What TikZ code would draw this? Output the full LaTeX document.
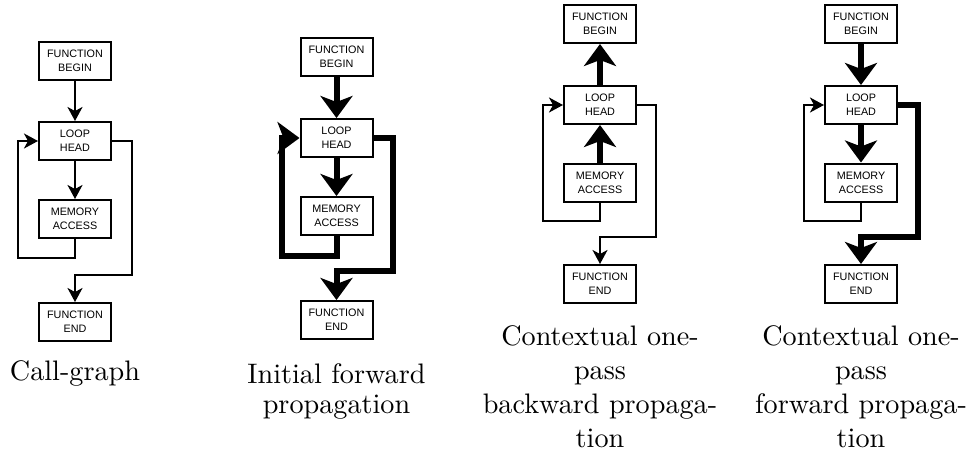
\documentclass[tikz,border=0pt]{standalone}
\usepackage{fontspec}
\newfontfamily\boxfont{Liberation Sans}
\newfontfamily\capfont[Extension=.otf]{lmroman10-regular}
\usetikzlibrary{arrows.meta}
\begin{document}
\begin{tikzpicture}[x=1pt,y=-1pt,
  box/.style={draw, line width=2pt, minimum width=72pt, minimum height=38pt,
    inner sep=0pt, align=center, font=\boxfont\fontsize{10.8}{14}\selectfont},
  thinarrow/.style={line width=2pt, -{Stealth[length=14pt,width=15pt,inset=4pt]}},
  thickarrow/.style={line width=6pt, -{Stealth[length=22pt,width=32pt,inset=6pt]}},
  captext/.style={align=center, anchor=base, inner sep=0pt, font=\capfont\fontsize{28.2}{33.7}\selectfont}]
\useasboundingbox[fill=white] (0,0) rectangle (972,458);

% ---------- Diagram 1: Call-graph ----------
\node[box] (b1) at (75,60.5) {FUNCTION\\BEGIN};
\node[box] (l1) at (75,141) {LOOP\\HEAD};
\node[box] (m1) at (75,219) {MEMORY\\ACCESS};
\node[box] (e1) at (75,322) {FUNCTION\\END};
\coordinate (lb1) at (18.3,258.3);
\coordinate (ex1) at (131.7,275);
\draw[thinarrow] (b1) -- (l1);
\draw[thinarrow] (l1) -- (m1);
\draw[thinarrow] (m1.south) |- (lb1) |- (l1.west);
\draw[thinarrow] (l1.east) -| (ex1) -| (e1.north);
\node[captext] (c1) at (75,380) {Call-graph};

% ---------- Diagram 2: Initial forward propagation ----------
\node[box] (b2) at (336.5,57) {FUNCTION\\BEGIN};
\node[box] (l2) at (336.5,138) {LOOP\\HEAD};
\node[box] (m2) at (336.5,216) {MEMORY\\ACCESS};
\node[box] (e2) at (336.5,320) {FUNCTION\\END};
\coordinate (lb2) at (281.7,256);
\coordinate (ex2) at (392.7,270.7);
\draw[thickarrow] (b2) -- (l2);
\draw[thickarrow] (l2) -- (m2);
\draw[thickarrow] (m2.south) |- (lb2) |- (l2.west);
\draw[thickarrow] (l2.east) -| (ex2) -| (e2.north);
\node[captext] (c2) at (336.5,413) {Initial forward\\[-4pt]propagation};

% ---------- Diagram 3: backward propagation ----------
\node[box] (b3) at (600,24) {FUNCTION\\BEGIN};
\node[box] (l3) at (600,105) {LOOP\\HEAD};
\node[box] (m3) at (600,182.5) {MEMORY\\ACCESS};
\node[box] (e3) at (600,284) {FUNCTION\\END};
\coordinate (lb3) at (543.3,220.7);
\coordinate (ex3) at (655.7,236.7);
\draw[thickarrow] (l3) -- (b3);
\draw[thickarrow] (m3) -- (l3);
\draw[thinarrow] (m3.south) |- (lb3) |- (l3.west);
\draw[thinarrow] (l3.east) -| (ex3) -| (e3.north);
\node[captext] (c3) at (600,447) {Contextual one-\\pass\\backward propaga-\\tion};

% ---------- Diagram 4: forward propagation ----------
\node[box] (b4) at (861,24) {FUNCTION\\BEGIN};
\node[box] (l4) at (861,105) {LOOP\\HEAD};
\node[box] (m4) at (861,182.5) {MEMORY\\ACCESS};
\node[box] (e4) at (861,284) {FUNCTION\\END};
\coordinate (lb4) at (804,220.7);
\coordinate (ex4) at (917.7,237);
\draw[thickarrow] (b4) -- (l4);
\draw[thickarrow] (l4) -- (m4);
\draw[thinarrow] (m4.south) |- (lb4) |- (l4.west);
\draw[thickarrow] (l4.east) -| (ex4) -| (e4.north);
\node[captext] (c4) at (861,447) {Contextual one-\\pass\\forward propaga-\\tion};
\end{tikzpicture}
\end{document}
